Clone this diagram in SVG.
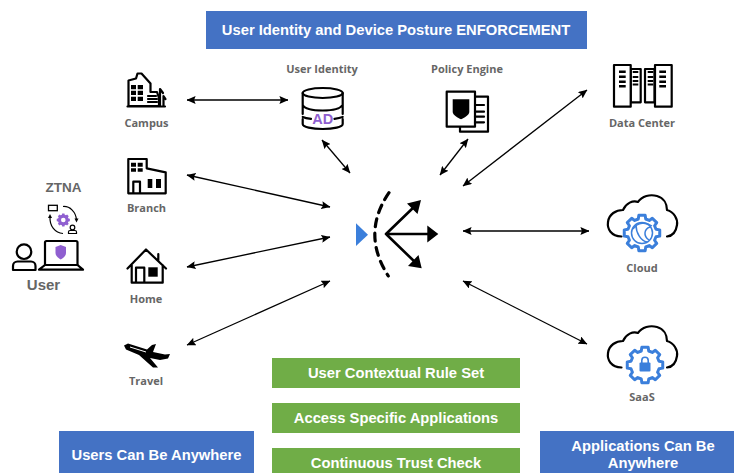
<svg xmlns="http://www.w3.org/2000/svg" xmlns:xlink="http://www.w3.org/1999/xlink" width="734" height="473" viewBox="0 0 734 473">
<style>
.bn{font:bold 14.750px "Liberation Sans",Arial,sans-serif;fill:#fff;text-anchor:middle}
.lb{font:bold 11px "Open Sans","Liberation Sans",sans-serif;fill:#666;text-anchor:middle}
.lg{font:bold 13.500px "Liberation Sans",Arial,sans-serif;fill:#666;text-anchor:middle}
.o{fill:#fff;stroke:#000;stroke-width:2.200;stroke-linejoin:round;stroke-linecap:round}
.n{fill:none;stroke:#000;stroke-width:2.200;stroke-linecap:round;stroke-linejoin:round}
.k{fill:#000;stroke:none}
.c{fill:none;stroke:#000;stroke-width:1.300}
.gb{fill:#fff;stroke:#3b7fdb;stroke-width:3;stroke-linejoin:round}
.bl{fill:none;stroke:#3b7fdb;stroke-width:1.500}
</style>
<defs>
<marker id="ah" viewBox="0 0 9 8" refX="8.600" refY="4" markerWidth="9" markerHeight="8" markerUnits="userSpaceOnUse" orient="auto-start-reverse"><path d="M0 0L9 4L0 8L1.500 4Z" fill="#000"/></marker>
<polygon id="gear" points="14.01,-3.75 17.73,-3.13 17.73,3.13 14.01,3.75 12.56,7.25 14.74,10.32 10.32,14.74 7.25,12.56 3.75,14.01 3.13,17.73 -3.13,17.73 -3.75,14.01 -7.25,12.56 -10.32,14.74 -14.74,10.32 -12.56,7.25 -14.01,3.75 -17.73,3.13 -17.73,-3.13 -14.01,-3.75 -12.56,-7.25 -14.74,-10.32 -10.32,-14.74 -7.25,-12.56 -3.75,-14.01 -3.13,-17.73 3.13,-17.73 3.75,-14.01 7.25,-12.56 10.32,-14.74 14.74,-10.32 12.56,-7.25"/>
</defs>
<rect width="734" height="473" fill="#fff"/>

<g id="connectors">
<line class="c" x1="187" y1="100" x2="288" y2="100" marker-start="url(#ah)" marker-end="url(#ah)"/>
<line class="c" x1="187" y1="175" x2="330" y2="207" marker-start="url(#ah)" marker-end="url(#ah)"/>
<line class="c" x1="187" y1="267" x2="330" y2="237" marker-start="url(#ah)" marker-end="url(#ah)"/>
<line class="c" x1="187" y1="345" x2="330" y2="281" marker-start="url(#ah)" marker-end="url(#ah)"/>
<line class="c" x1="322" y1="140" x2="350" y2="173" marker-start="url(#ah)" marker-end="url(#ah)"/>
<line class="c" x1="468" y1="139" x2="440" y2="175" marker-start="url(#ah)" marker-end="url(#ah)"/>
<line class="c" x1="587" y1="90" x2="463" y2="186" marker-start="url(#ah)" marker-end="url(#ah)"/>
<line class="c" x1="463" y1="231" x2="589" y2="231" marker-start="url(#ah)" marker-end="url(#ah)"/>
<line class="c" x1="463" y1="281" x2="587" y2="344" marker-start="url(#ah)" marker-end="url(#ah)"/>
</g>

<g id="banner-top"><rect x="206" y="11" width="381" height="38" fill="#4472c4"/><text class="bn" x="396" y="35">User Identity and Device Posture ENFORCEMENT</text></g>
<g id="rule-1"><rect x="272" y="358" width="248" height="30" fill="#70ad47"/><text class="bn" x="396" y="378">User Contextual Rule Set</text></g>
<g id="rule-2"><rect x="272" y="403" width="248" height="30" fill="#70ad47"/><text class="bn" x="396" y="423">Access Specific Applications</text></g>
<g id="rule-3"><rect x="272" y="448" width="248" height="25" fill="#70ad47"/><text class="bn" x="396" y="468">Continuous Trust Check</text></g>
<g id="banner-users"><rect x="59" y="431" width="195" height="42" fill="#4472c4"/><text class="bn" x="156.500" y="460">Users Can Be Anywhere</text></g>
<g id="banner-apps"><rect x="540" y="431" width="194" height="42" fill="#4472c4"/><text class="bn" x="643" y="451">Applications Can Be</text><text class="bn" x="643" y="468">Anywhere</text></g>

<g id="campus">
<path class="o" d="M128.500 106V80.500L136 78.500L137.500 73.500H141.500L150.500 83.500V92H157L159 98V106Z"/>
<path class="k" d="M131 85h5v4.300h-5zM137.700 85h5.300v4.300h-5.300zM131 90.700h5V95h-5zM137.700 90.700h5.300V95h-5.300zM131 96.700h5v4.300h-5zM137.700 96.700h5.300v4.300h-5.300z"/>
<path class="n" d="M148 96h8M148 99h9M148 102h9M127.500 106.500H165" stroke-width="1.500"/>
<path class="n" d="M160 106V89l3 4M163.500 106V96l2 3" stroke-width="1.200"/>
<text class="lb" x="146.500" y="127">Campus</text>
</g>

<g id="branch">
<path class="o" d="M128.300 159H146.700V168.300L165.700 172.300V193.300H128.300Z"/>
<path class="k" d="M131 162.700h5v4h-5zM137.700 162.700h5v4h-5zM131 168.300h5v3.400h-5zM137.700 168.300h5v3.400h-5zM147.700 179h4.600v9h-4.600zM156 179h5v9h-5z"/>
<path class="n" d="M133.300 193V181.700H140V193"/>
<text class="lb" x="146.500" y="212">Branch</text>
</g>

<g id="home">
<path class="n" d="M127.500 268.500L146 249.500L166 268.500M158.300 254V261M131.700 265V282.700H162.700V265M136 282.700V267.700H144.300V282.700"/>
<rect class="k" x="148.300" y="267.300" width="9.400" height="9.400"/>
<text class="lb" x="146" y="303">Home</text>
</g>

<g id="travel">
<path class="k" d="M124 345.500L128 343.500L147 349.500L152 345L156 344L153 352L165 354.500L170 354L168 358.500L160 360L150 358L158 367.500H153L139 355L126 349.500Z"/>
<path d="M130 347L146 352" stroke="#fff" stroke-width="1"/>
<text class="lb" x="146" y="385">Travel</text>
</g>

<g id="user-identity">
<path class="n" d="M302.700 93V114M342.700 93V114M302.700 105C305 109 313 110.500 322.700 110.500S340 109 342.700 105M302.700 119V124C302.700 127 312 129 322.700 129S342.700 127 342.700 124V119"/>
<ellipse class="n" cx="322.700" cy="93" rx="20" ry="5"/>
<path class="n" d="M302.700 117C305 118 308 118.500 311 118.800M334.500 118.800C337 118.500 340 118 342.700 117"/>
<text x="322.700" y="123.500" text-anchor="middle" style="font:bold 14.500px 'Liberation Sans',Arial,sans-serif;fill:#8f5fd0">AD</text>
<text class="lb" x="322" y="73">User Identity</text>
</g>

<g id="policy-engine">
<path class="n" d="M475 96.700H488V131.700H460V126.700"/>
<rect class="o" x="446.700" y="91.700" width="28.300" height="35" fill="#fff"/>
<path class="n" d="M475 105H484M475 111.700H484M475 116.700H484M475 122.300H484" stroke-width="1.500"/>
<path class="k" d="M452.700 99.300H469.300V112C469.300 115 464 118 461 119.300C458 118 452.700 115 452.700 112Z"/>
<text class="lb" x="467" y="73">Policy Engine</text>
</g>

<g id="enforcement-point">
<path d="M356 223.300V246L368 234.700Z" fill="#3b7fdb"/>
<path d="M389 192.700Q361 233.500 388.300 276" fill="none" stroke="#000" stroke-width="3.200" stroke-linecap="round" stroke-dasharray="8 6.500"/>
<path d="M386 234L415 206M386 234H428M386 234L416 263" fill="none" stroke="#000" stroke-width="2.600" stroke-linecap="round"/>
<path class="k" d="M421 200L417.500 214L407 203.500ZM438.300 234L427.300 242.500V225.500ZM421.700 268.300L408 266L418.500 255Z"/>
</g>

<g id="data-center">
<rect class="o" x="630.700" y="69" width="10" height="33.300"/>
<rect class="o" x="645" y="69" width="9.500" height="33.300"/>
<rect class="o" x="614" y="65" width="16.700" height="41.700"/>
<rect class="o" x="655" y="65" width="16.700" height="41.700"/>
<path class="k" d="M619 70.500h6.700v2.400H619zM619 75.500h6.700v2.400H619zM619 80.500h6.700v2.400H619zM619 85h6.700v2.400H619zM659.300 70.500h6.700v2.400h-6.700zM659.300 75.500h6.700v2.400h-6.700zM659.300 80.500h6.700v2.400h-6.700zM659.300 85h6.700v2.400h-6.700zM632.700 71h5.600v2h-5.600zM632.700 76h5.600v2h-5.600zM632.700 80h5.600v2h-5.600zM632.700 83.500h5.600v2h-5.600zM647.700 71h5.600v2h-5.600zM647.700 76h5.600v2h-5.600zM647.700 80h5.600v2h-5.600zM647.700 83.500h5.600v2h-5.600z"/>
<text class="lb" x="642" y="127">Data Center</text>
</g>

<g id="cloud">
<path class="n" d="M621.500 236.500C611 236 607 229 608 222C609 214 616 210 623 210C626 203 633 200 638 202C642 196 650 194 657 196C664 198 667 204 667 210C674 212 678 219 677 225C676 232 672 236 667 236.500" stroke-width="2.400"/>
<use xlink:href="#gear" href="#gear" class="gb" transform="translate(642 233)"/>
<circle class="bl" cx="642" cy="233" r="10.500"/>
<path class="bl" d="M633 229C638 222 646 222 652 226M636 225C636 233 641 241 647 242M650 227C644 229 643 236 649 240"/>
<text class="lb" x="642" y="272">Cloud</text>
</g>

<g id="saas">
<path class="n" d="M621.500 367.500C611 367 607 360 608 353C609 345 616 341 623 341C626 334 633 331 638 333C642 327 650 325 657 327C664 329 667 335 667 341C674 343 678 350 677 356C676 363 672 367 667 367.500" stroke-width="2.400"/>
<use xlink:href="#gear" href="#gear" class="gb" transform="translate(645 365)"/>
<rect x="639.500" y="362.500" width="11" height="9" rx="1" fill="#3b7fdb"/>
<path d="M641.800 363V360.500A3.200 3.200 0 0 1 648.200 360.500V363" fill="none" stroke="#3b7fdb" stroke-width="1.600"/>
<text class="lb" x="642" y="401">SaaS</text>
</g>

<g id="ztna">
<text class="lg" x="63.500" y="192">ZTNA</text>
<rect x="48.500" y="205.300" width="8.800" height="5.400" fill="#fff" stroke="#000" stroke-width="1.300"/>
<path d="M63 206.500C70 206 76 212 76.500 220" fill="none" stroke="#000" stroke-width="1.200"/>
<path class="k" d="M74.500 218.500H78.500L76.500 222.500Z"/>
<path d="M63 233.500C55 233 49.500 226 50 217" fill="none" stroke="#000" stroke-width="1.200"/>
<path class="k" d="M48 218H52L50 214Z"/>
<use xlink:href="#gear" href="#gear" transform="translate(63.300 220) scale(.37)" fill="#8f5fd0"/>
<circle cx="63.300" cy="220" r="2.300" fill="#fff"/>
<circle cx="72.500" cy="227.500" r="2.300" fill="#fff" stroke="#000" stroke-width="1.200"/>
<path d="M68.500 233.500V232A1.500 1.500 0 0 1 70 230.500H75A1.500 1.500 0 0 1 76.500 232V233.500Z" fill="#fff" stroke="#000" stroke-width="1.200"/>
</g>

<g id="user">
<circle class="n" cx="24" cy="251.700" r="7.300"/>
<path class="n" d="M13 270V266A4.500 4.500 0 0 1 17.500 261.500H31A4.500 4.500 0 0 1 35.500 266V270Z"/>
<path class="n" d="M45 265V242.500A1.500 1.500 0 0 1 46.500 241H76A1.500 1.500 0 0 1 77.500 242.500V265"/>
<path class="n" d="M45 265H77.500L83 269.700H39Z"/>
<path d="M55.500 247L60.700 245L66 247V253C66 256 63 258.500 60.700 259.500C58.500 258.500 55.500 256 55.500 253Z" fill="#8f5fd0"/>
<text x="43.500" y="290" text-anchor="middle" style="font:bold 15px 'Liberation Sans',Arial,sans-serif;fill:#666">User</text>
</g>
</svg>
